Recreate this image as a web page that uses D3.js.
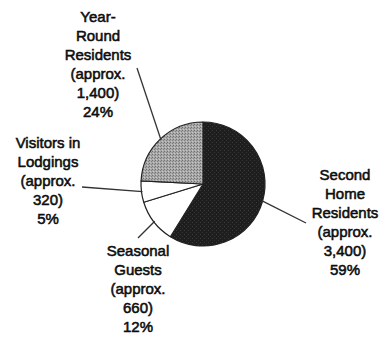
<!DOCTYPE html>
<html>
<head>
<meta charset="utf-8">
<script src="https://cdn.jsdelivr.net/npm/d3@7"></script>
<style>
  html, body { margin: 0; padding: 0; background: #fff; }
  svg { display: block; }
  .lbl { font-family: "Liberation Sans", Arial, Helvetica, sans-serif; font-size: 15px; fill: #0d0d0d; stroke: #0d0d0d; stroke-width: 0.55px; }
</style>
</head>
<body>
<svg id="chart" width="391" height="339"></svg>
<script>
// Population groups, in drawing order (clockwise from 12 o'clock)
const categories = ["Second Home Residents", "Seasonal Guests", "Visitors in Lodgings", "Year-Round Residents"];
const values = [3400, 660, 320, 1400];
const percents = [59, 12, 5, 24];
const labelLines = [
  ["Second", "Home", "Residents", "(approx.", "3,400)", "59%"],
  ["Seasonal", "Guests", "(approx.", "660)", "12%"],
  ["Visitors in", "Lodgings", "(approx.", "320)", "5%"],
  ["Year-", "Round", "Residents", "(approx.", "1,400)", "24%"]
];

const svg = d3.select("#chart");
const cx = 203, cy = 184, r = 62;

// texture patterns for the slices
const defs = svg.append("defs");
const dark = defs.append("pattern").attr("id", "darkTex").attr("patternUnits", "userSpaceOnUse")
  .attr("width", 4).attr("height", 4);
dark.append("rect").attr("width", 4).attr("height", 4).attr("fill", "#1e1e1e");
dark.append("rect").attr("x", 1).attr("y", 2).attr("width", 1).attr("height", 1).attr("fill", "#3a3a3a");
dark.append("rect").attr("x", 3).attr("y", 0).attr("width", 1).attr("height", 1).attr("fill", "#333");

const gray = defs.append("pattern").attr("id", "grayTex").attr("patternUnits", "userSpaceOnUse")
  .attr("width", 3).attr("height", 3);
gray.append("rect").attr("width", 3).attr("height", 3).attr("fill", "#a8a8a8");
gray.append("rect").attr("x", 0).attr("y", 0).attr("width", 1).attr("height", 1).attr("fill", "#707070");
gray.append("rect").attr("x", 2).attr("y", 1).attr("width", 1).attr("height", 1).attr("fill", "#808080");
gray.append("rect").attr("x", 1).attr("y", 2).attr("width", 1).attr("height", 1).attr("fill", "#c8c8c8");

const fills = d3.scaleOrdinal().domain(categories)
  .range(["url(#darkTex)", "#fff", "#fff", "url(#grayTex)"]);

const pie = d3.pie().sort(null).value(d => d);
const arcs = pie(values);
const arc = d3.arc().innerRadius(0).outerRadius(r);

const g = svg.append("g").attr("transform", `translate(${cx},${cy})`);
g.selectAll("path.slice").data(arcs).join("path")
  .attr("class", "slice")
  .attr("d", arc)
  .attr("fill", (d, i) => fills(categories[i]))
  .attr("stroke", "#222").attr("stroke-width", 1.2).attr("stroke-linejoin", "round");

// label blocks: centre x, first baseline, and outer end of the leader line
const labelPos = [
  { x: 345, y: 180, lx: 306, ly: 223 },
  { x: 138, y: 256, lx: 138, ly: 238 },
  { x: 48,  y: 148, lx: 82,  ly: 187 },
  { x: 98,  y: 22,  lx: 137, ly: 68 }
];
const lineH = 18.9;

arcs.forEach((a, i) => {
  const mid = (a.startAngle + a.endAngle) / 2;
  const ex = cx + Math.sin(mid) * (r - 1);
  const ey = cy - Math.cos(mid) * (r - 1);
  const p = labelPos[i];
  svg.append("line")
    .attr("x1", p.lx).attr("y1", p.ly).attr("x2", ex).attr("y2", ey)
    .attr("stroke", "#333").attr("stroke-width", 1.3);
  const t = svg.append("text").attr("class", "lbl").attr("text-anchor", "middle");
  labelLines[i].forEach((s, k) => {
    t.append("tspan").attr("x", p.x).attr("y", p.y + k * lineH).text(s);
  });
});
</script>
</body>
</html>
